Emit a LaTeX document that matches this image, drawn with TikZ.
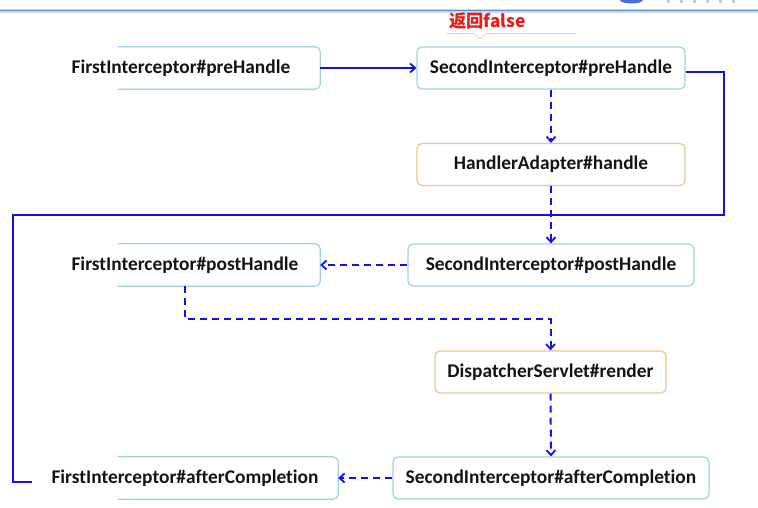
\documentclass[tikz,border=0pt]{standalone}
\usepackage{fontspec}
\setmainfont{Carlito}[Ligatures={NoCommon}]
\newfontfamily\cjk{Noto Sans CJK SC}
\usetikzlibrary{arrows.meta}
\definecolor{bluebox}{HTML}{9DD3E3}
\definecolor{orangebox}{HTML}{F8C08E}
\definecolor{lineblue}{HTML}{1010F0}
\definecolor{topline}{HTML}{5F8BC8}
\definecolor{toplinehalo}{HTML}{CCDAEE}
\definecolor{redlbl}{HTML}{F01818}
\definecolor{calloutc}{HTML}{F0C8C8}
\tikzset{
  boxtext/.style={font=\fontsize{19.4}{22}\selectfont\bfseries, text=black!92},
  bluebx/.style={draw=bluebox, line width=1.2pt, rounded corners=5pt, fill=white, minimum height=42pt, inner sep=0pt},
  orangebx/.style={draw=orangebox, line width=1.2pt, rounded corners=5pt, fill=white, minimum height=42pt, inner sep=0pt},
  ghostbx/.style={minimum height=42pt, inner sep=0pt},
  partborder/.style={draw=bluebox, line width=1.2pt, rounded corners=5pt},
  flow/.style={draw=lineblue, line width=2pt},
  flowdash/.style={draw=lineblue, line width=2pt, dash pattern=on 7pt off 5pt},
  tip/.style={-{Straight Barb[length=5pt,width=9pt,line width=1.8pt]}},
}
\begin{document}
\begin{tikzpicture}[x=1pt,y=-1pt]
\useasboundingbox (0,0) rectangle (758,507);
% top rule and logo fragment
\draw[toplinehalo, line width=4pt] (0,10.5) -- (758,10.5);
\draw[topline, line width=1.8pt] (0,10.5) -- (758,10.5);
\fill[topline!80!blue] (620,0) -- (643,0) arc[start angle=0,end angle=-180,x radius=11.5pt,y radius=3.5pt] -- cycle;
\foreach \xx in {667,680,693,706,719,732}{\fill[gray!40] (\xx,0) rectangle (\xx+3,2.5);}

% right column boxes
\node[bluebx, minimum width=268pt] (spre) at (551,68) {};
\node[boxtext] (sprel) at (spre.center) {SecondInterceptor\#preHandle};
\node[orangebx, minimum width=268pt] (ha) at (551,164.5) {};
\node[boxtext] (hal) at (ha.center) {HandlerAdapter\#handle};
\node[bluebx, minimum width=286pt] (spost) at (551,265) {};
\node[boxtext] (spostl) at (spost.center) {SecondInterceptor\#postHandle};
\node[orangebx, minimum width=231pt] (ds) at (550.5,372) {};
\node[boxtext] (dsl) at (ds.center) {DispatcherServlet\#render};
\node[bluebx, minimum width=316pt] (safter) at (551,478) {};
\node[boxtext] (safterl) at (safter.center) {SecondInterceptor\#afterCompletion};

% left column boxes (left edge hidden)
\node[ghostbx, minimum width=202pt] (fpre) at (219,68) {};
\draw[partborder] (fpre.north west) -- (fpre.north east) -- (fpre.south east) -- (fpre.south west);
\node[boxtext] (fprel) at (181,68) {FirstInterceptor\#preHandle};
\node[ghostbx, minimum width=202pt] (fpost) at (219,265) {};
\draw[partborder] (fpost.north west) -- (fpost.north east) -- (fpost.south east) -- (fpost.south west);
\node[boxtext] (fpostl) at (185,265) {FirstInterceptor\#postHandle};
\node[ghostbx, minimum width=220pt] (fafter) at (228,478) {};
\draw[partborder] (fafter.north west) -- (fafter.north east) -- (fafter.south east) -- (fafter.south west);
\node[boxtext] (fafterl) at (185,478) {FirstInterceptor\#afterCompletion};

% red label with callout
\node[font=\cjk\fontsize{17.3}{19}\selectfont\bfseries, text=redlbl] (ret) at (487.5,21) {返回false};
\coordinate (cl) at (447,33.5);
\coordinate (cr) at (576,33.5);
\draw[calloutc, line width=0.8pt] (cl) -- (474,33.5) -- (480,39) -- (486,33.5) -- (cr);

% connectors
\draw[flow, tip] (fpre.east) -- (spre.west);
\coordinate (r1) at (724,71.5);
\coordinate (r2) at (724,215);
\coordinate (r3) at (13,215);
\coordinate (r4) at (13,482);
\coordinate (r5) at (32,482);
\draw[flow] (spre.east |- r1) -- (r1) -- (r2) -- (r3) -- (r4) -- (r5);
\draw[flowdash, tip] (spre.south) -- (ha.north);
\draw[flowdash, tip] (ha.south) -- (spost.north);
\draw[flowdash, tip] (spost.west) -- (fpost.east);
\coordinate (p1) at (185,319);
\draw[flowdash, tip] (fpost.south -| p1) -- (p1) -- (p1 -| ds.north) -- (ds.north);
\draw[flowdash, tip] (ds.south) -- (safter.north);
\draw[flowdash, tip] (safter.west) -- (fafter.east);
\end{tikzpicture}
\end{document}
